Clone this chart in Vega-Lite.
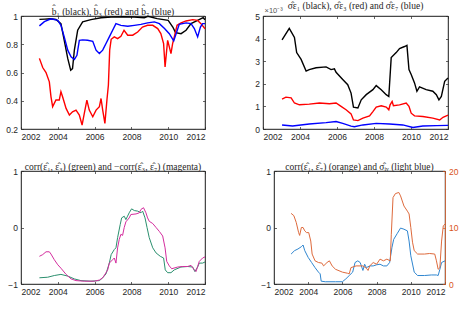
{
  "$schema": "https://vega.github.io/schema/vega-lite/v6.json",
  "padding": {"left": 0, "top": 0, "right": 0, "bottom": 0},
  "background": "white",
  "config": {
    "view": {"stroke": "#262626", "strokeWidth": 0.7},
    "axis": {"labelFont": "Liberation Sans", "labelFontSize": 8.5, "labelColor": "#262626", "tickColor": "#262626", "domainColor": "#262626", "domainWidth": 0.7, "tickWidth": 0.7, "tickSize": -2.5, "labelPadding": 6, "grid": false},
    "title": {"font": "Liberation Serif", "fontSize": 9.5, "fontWeight": "normal", "color": "#262626", "offset": -4}
  },
  "resolve": {"scale": {"color": "independent"}},
  "datasets": {
    "p1": [
      {"s":"b1","t":2003.0,"v":0.976},{"s":"b1","t":2003.3,"v":0.978},{"s":"b1","t":2003.6,"v":0.98},{"s":"b1","t":2003.9,"v":0.975},{"s":"b1","t":2004.17,"v":0.946},{"s":"b1","t":2004.35,"v":0.828},{"s":"b1","t":2004.54,"v":0.70},{"s":"b1","t":2004.7,"v":0.616},{"s":"b1","t":2004.8,"v":0.628},{"s":"b1","t":2004.9,"v":0.758},{"s":"b1","t":2005.08,"v":0.899},{"s":"b1","t":2005.35,"v":0.958},{"s":"b1","t":2005.8,"v":0.974},{"s":"b1","t":2006.35,"v":0.988},{"s":"b1","t":2006.9,"v":0.993},{"s":"b1","t":2007.5,"v":0.995},{"s":"b1","t":2008.15,"v":0.993},{"s":"b1","t":2008.7,"v":0.988},{"s":"b1","t":2008.9,"v":0.998},{"s":"b1","t":2009.4,"v":0.981},{"s":"b1","t":2010.0,"v":0.969},{"s":"b1","t":2010.25,"v":0.922},{"s":"b1","t":2010.4,"v":0.882},{"s":"b1","t":2010.7,"v":0.875},{"s":"b1","t":2010.97,"v":0.899},{"s":"b1","t":2011.24,"v":0.946},{"s":"b1","t":2011.6,"v":0.969},{"s":"b1","t":2011.9,"v":0.988},{"s":"b1","t":2012.0,"v":0.974},
      {"s":"b3","t":2003.0,"v":0.70},{"s":"b3","t":2003.18,"v":0.635},{"s":"b3","t":2003.36,"v":0.60},{"s":"b3","t":2003.54,"v":0.534},{"s":"b3","t":2003.63,"v":0.428},{"s":"b3","t":2003.72,"v":0.358},{"s":"b3","t":2003.9,"v":0.405},{"s":"b3","t":2004.08,"v":0.405},{"s":"b3","t":2004.17,"v":0.464},{"s":"b3","t":2004.26,"v":0.428},{"s":"b3","t":2004.45,"v":0.346},{"s":"b3","t":2004.63,"v":0.299},{"s":"b3","t":2004.8,"v":0.322},{"s":"b3","t":2004.99,"v":0.334},{"s":"b3","t":2005.17,"v":0.299},{"s":"b3","t":2005.32,"v":0.228},{"s":"b3","t":2005.44,"v":0.311},{"s":"b3","t":2005.58,"v":0.405},{"s":"b3","t":2005.71,"v":0.334},{"s":"b3","t":2005.9,"v":0.287},{"s":"b3","t":2006.08,"v":0.334},{"s":"b3","t":2006.26,"v":0.358},{"s":"b3","t":2006.35,"v":0.416},{"s":"b3","t":2006.44,"v":0.334},{"s":"b3","t":2006.56,"v":0.24},{"s":"b3","t":2006.67,"v":0.405},{"s":"b3","t":2006.75,"v":0.511},{"s":"b3","t":2006.82,"v":0.758},{"s":"b3","t":2006.9,"v":0.835},{"s":"b3","t":2007.07,"v":0.852},{"s":"b3","t":2007.25,"v":0.84},{"s":"b3","t":2007.43,"v":0.856},{"s":"b3","t":2007.6,"v":0.899},{"s":"b3","t":2007.8,"v":0.864},{"s":"b3","t":2008.07,"v":0.864},{"s":"b3","t":2008.34,"v":0.887},{"s":"b3","t":2008.6,"v":0.922},{"s":"b3","t":2008.88,"v":0.934},{"s":"b3","t":2009.16,"v":0.934},{"s":"b3","t":2009.43,"v":0.911},{"s":"b3","t":2009.6,"v":0.875},{"s":"b3","t":2009.75,"v":0.805},{"s":"b3","t":2009.83,"v":0.64},{"s":"b3","t":2009.9,"v":0.734},{"s":"b3","t":2009.97,"v":0.828},{"s":"b3","t":2010.06,"v":0.781},{"s":"b3","t":2010.15,"v":0.734},{"s":"b3","t":2010.24,"v":0.805},{"s":"b3","t":2010.33,"v":0.852},{"s":"b3","t":2010.48,"v":0.934},{"s":"b3","t":2010.7,"v":0.951},{"s":"b3","t":2010.97,"v":0.965},{"s":"b3","t":2011.33,"v":0.974},{"s":"b3","t":2011.6,"v":0.969},{"s":"b3","t":2011.78,"v":0.946},{"s":"b3","t":2012.0,"v":0.91},
      {"s":"b7","t":2003.0,"v":0.93},{"s":"b7","t":2003.27,"v":0.96},{"s":"b7","t":2003.63,"v":0.98},{"s":"b7","t":2004.0,"v":0.969},{"s":"b7","t":2004.17,"v":0.934},{"s":"b7","t":2004.35,"v":0.852},{"s":"b7","t":2004.54,"v":0.758},{"s":"b7","t":2004.72,"v":0.711},{"s":"b7","t":2004.9,"v":0.692},{"s":"b7","t":2005.04,"v":0.722},{"s":"b7","t":2005.17,"v":0.828},{"s":"b7","t":2005.35,"v":0.831},{"s":"b7","t":2005.62,"v":0.828},{"s":"b7","t":2005.9,"v":0.821},{"s":"b7","t":2006.08,"v":0.758},{"s":"b7","t":2006.26,"v":0.734},{"s":"b7","t":2006.44,"v":0.758},{"s":"b7","t":2006.62,"v":0.805},{"s":"b7","t":2006.8,"v":0.852},{"s":"b7","t":2006.98,"v":0.899},{"s":"b7","t":2007.16,"v":0.946},{"s":"b7","t":2007.43,"v":0.934},{"s":"b7","t":2007.8,"v":0.927},{"s":"b7","t":2008.16,"v":0.934},{"s":"b7","t":2008.52,"v":0.941},{"s":"b7","t":2008.88,"v":0.951},{"s":"b7","t":2009.25,"v":0.958},{"s":"b7","t":2009.52,"v":0.946},{"s":"b7","t":2009.8,"v":0.911},{"s":"b7","t":2010.06,"v":0.875},{"s":"b7","t":2010.3,"v":0.824},{"s":"b7","t":2010.43,"v":0.875},{"s":"b7","t":2010.6,"v":0.941},{"s":"b7","t":2010.97,"v":0.951},{"s":"b7","t":2011.24,"v":0.946},{"s":"b7","t":2011.42,"v":0.911},{"s":"b7","t":2011.6,"v":0.852},{"s":"b7","t":2011.75,"v":0.922},{"s":"b7","t":2011.87,"v":0.946},{"s":"b7","t":2012.0,"v":0.946}
    ],
    "p2": [
      {"s":"s1","t":2003.03,"v":3.94},{"s":"s1","t":2003.42,"v":4.45},{"s":"s1","t":2003.7,"v":4.05},{"s":"s1","t":2003.82,"v":3.38},{"s":"s1","t":2004.06,"v":3.08},{"s":"s1","t":2004.33,"v":2.56},{"s":"s1","t":2004.5,"v":2.63},{"s":"s1","t":2004.87,"v":2.71},{"s":"s1","t":2005.41,"v":2.75},{"s":"s1","t":2005.68,"v":2.63},{"s":"s1","t":2005.86,"v":2.66},{"s":"s1","t":2005.95,"v":2.51},{"s":"s1","t":2006.31,"v":2.19},{"s":"s1","t":2006.58,"v":1.96},{"s":"s1","t":2006.76,"v":1.59},{"s":"s1","t":2006.89,"v":0.97},{"s":"s1","t":2007.13,"v":0.93},{"s":"s1","t":2007.31,"v":1.29},{"s":"s1","t":2007.58,"v":1.52},{"s":"s1","t":2007.94,"v":1.74},{"s":"s1","t":2008.12,"v":1.92},{"s":"s1","t":2008.39,"v":1.74},{"s":"s1","t":2008.66,"v":1.52},{"s":"s1","t":2008.8,"v":1.44},{"s":"s1","t":2008.93,"v":3.16},{"s":"s1","t":2009.2,"v":3.38},{"s":"s1","t":2009.38,"v":3.56},{"s":"s1","t":2009.65,"v":3.65},{"s":"s1","t":2009.78,"v":3.7},{"s":"s1","t":2009.89,"v":2.63},{"s":"s1","t":2010.01,"v":2.41},{"s":"s1","t":2010.19,"v":2.04},{"s":"s1","t":2010.32,"v":1.67},{"s":"s1","t":2010.46,"v":1.86},{"s":"s1","t":2010.82,"v":1.74},{"s":"s1","t":2011.18,"v":1.67},{"s":"s1","t":2011.37,"v":1.52},{"s":"s1","t":2011.51,"v":1.29},{"s":"s1","t":2011.64,"v":1.44},{"s":"s1","t":2011.82,"v":2.11},{"s":"s1","t":2012.0,"v":2.26},
      {"s":"s3","t":2003.03,"v":1.32},{"s":"s3","t":2003.24,"v":1.41},{"s":"s3","t":2003.52,"v":1.38},{"s":"s3","t":2003.7,"v":1.15},{"s":"s3","t":2003.97,"v":1.07},{"s":"s3","t":2004.5,"v":1.1},{"s":"s3","t":2005.05,"v":1.15},{"s":"s3","t":2005.59,"v":1.12},{"s":"s3","t":2005.95,"v":1.15},{"s":"s3","t":2006.22,"v":1.0},{"s":"s3","t":2006.49,"v":0.85},{"s":"s3","t":2006.76,"v":0.67},{"s":"s3","t":2006.89,"v":0.4},{"s":"s3","t":2007.13,"v":0.37},{"s":"s3","t":2007.4,"v":0.48},{"s":"s3","t":2007.76,"v":0.58},{"s":"s3","t":2007.94,"v":0.77},{"s":"s3","t":2008.12,"v":0.97},{"s":"s3","t":2008.39,"v":1.03},{"s":"s3","t":2008.66,"v":0.97},{"s":"s3","t":2008.8,"v":0.85},{"s":"s3","t":2008.87,"v":1.07},{"s":"s3","t":2008.98,"v":1.22},{"s":"s3","t":2009.05,"v":1.03},{"s":"s3","t":2009.38,"v":1.07},{"s":"s3","t":2009.74,"v":1.15},{"s":"s3","t":2009.89,"v":1.0},{"s":"s3","t":2010.01,"v":0.7},{"s":"s3","t":2010.19,"v":0.58},{"s":"s3","t":2010.64,"v":0.55},{"s":"s3","t":2011.18,"v":0.48},{"s":"s3","t":2011.55,"v":0.4},{"s":"s3","t":2011.73,"v":0.52},{"s":"s3","t":2012.0,"v":0.61},
      {"s":"s7","t":2003.03,"v":0.18},{"s":"s7","t":2003.6,"v":0.13},{"s":"s7","t":2004.5,"v":0.22},{"s":"s7","t":2005.41,"v":0.28},{"s":"s7","t":2005.95,"v":0.33},{"s":"s7","t":2006.31,"v":0.25},{"s":"s7","t":2006.76,"v":0.13},{"s":"s7","t":2006.94,"v":0.1},{"s":"s7","t":2007.4,"v":0.18},{"s":"s7","t":2008.12,"v":0.25},{"s":"s7","t":2008.84,"v":0.22},{"s":"s7","t":2009.56,"v":0.18},{"s":"s7","t":2010.1,"v":0.07},{"s":"s7","t":2010.64,"v":0.13},{"s":"s7","t":2011.37,"v":0.15},{"s":"s7","t":2012.0,"v":0.16}
    ],
    "p3": [
      {"s":"green","t":2003.0,"v":-0.89},{"s":"green","t":2003.45,"v":-0.88},{"s":"green","t":2003.81,"v":-0.85},{"s":"green","t":2004.17,"v":-0.83},{"s":"green","t":2004.54,"v":-0.86},{"s":"green","t":2004.9,"v":-0.91},{"s":"green","t":2005.26,"v":-0.94},{"s":"green","t":2005.8,"v":-0.95},{"s":"green","t":2006.26,"v":-0.94},{"s":"green","t":2006.44,"v":-0.89},{"s":"green","t":2006.62,"v":-0.82},{"s":"green","t":2006.8,"v":-0.63},{"s":"green","t":2006.9,"v":-0.48},{"s":"green","t":2007.07,"v":-0.39},{"s":"green","t":2007.16,"v":-0.36},{"s":"green","t":2007.25,"v":-0.18},{"s":"green","t":2007.39,"v":0.05},{"s":"green","t":2007.47,"v":0.17},{"s":"green","t":2007.61,"v":0.20},{"s":"green","t":2007.7,"v":0.14},{"s":"green","t":2007.79,"v":0.20},{"s":"green","t":2007.88,"v":0.26},{"s":"green","t":2008.01,"v":0.33},{"s":"green","t":2008.16,"v":0.30},{"s":"green","t":2008.34,"v":0.29},{"s":"green","t":2008.52,"v":0.26},{"s":"green","t":2008.61,"v":0.29},{"s":"green","t":2008.74,"v":0.17},{"s":"green","t":2008.85,"v":0.0},{"s":"green","t":2008.97,"v":-0.18},{"s":"green","t":2009.16,"v":-0.36},{"s":"green","t":2009.34,"v":-0.45},{"s":"green","t":2009.57,"v":-0.51},{"s":"green","t":2009.75,"v":-0.54},{"s":"green","t":2009.84,"v":-0.75},{"s":"green","t":2009.97,"v":-0.80},{"s":"green","t":2010.15,"v":-0.80},{"s":"green","t":2010.33,"v":-0.75},{"s":"green","t":2010.69,"v":-0.70},{"s":"green","t":2011.06,"v":-0.69},{"s":"green","t":2011.33,"v":-0.70},{"s":"green","t":2011.45,"v":-0.78},{"s":"green","t":2011.6,"v":-0.70},{"s":"green","t":2011.69,"v":-0.63},{"s":"green","t":2011.87,"v":-0.63},{"s":"green","t":2012.0,"v":-0.61},
      {"s":"magenta","t":2003.0,"v":-0.51},{"s":"magenta","t":2003.18,"v":-0.48},{"s":"magenta","t":2003.36,"v":-0.43},{"s":"magenta","t":2003.54,"v":-0.43},{"s":"magenta","t":2003.63,"v":-0.47},{"s":"magenta","t":2003.81,"v":-0.57},{"s":"magenta","t":2004.0,"v":-0.66},{"s":"magenta","t":2004.17,"v":-0.72},{"s":"magenta","t":2004.45,"v":-0.83},{"s":"magenta","t":2004.72,"v":-0.91},{"s":"magenta","t":2004.99,"v":-0.94},{"s":"magenta","t":2005.44,"v":-0.95},{"s":"magenta","t":2005.99,"v":-0.95},{"s":"magenta","t":2006.26,"v":-0.93},{"s":"magenta","t":2006.44,"v":-0.89},{"s":"magenta","t":2006.62,"v":-0.80},{"s":"magenta","t":2006.71,"v":-0.75},{"s":"magenta","t":2006.8,"v":-0.63},{"s":"magenta","t":2006.98,"v":-0.57},{"s":"magenta","t":2007.07,"v":-0.54},{"s":"magenta","t":2007.16,"v":-0.63},{"s":"magenta","t":2007.25,"v":-0.36},{"s":"magenta","t":2007.34,"v":-0.21},{"s":"magenta","t":2007.43,"v":-0.12},{"s":"magenta","t":2007.52,"v":-0.14},{"s":"magenta","t":2007.61,"v":0.0},{"s":"magenta","t":2007.7,"v":0.10},{"s":"magenta","t":2007.88,"v":0.17},{"s":"magenta","t":2007.97,"v":0.23},{"s":"magenta","t":2008.25,"v":0.24},{"s":"magenta","t":2008.43,"v":0.26},{"s":"magenta","t":2008.52,"v":0.32},{"s":"magenta","t":2008.66,"v":0.35},{"s":"magenta","t":2008.79,"v":0.26},{"s":"magenta","t":2008.88,"v":0.17},{"s":"magenta","t":2008.97,"v":0.11},{"s":"magenta","t":2009.16,"v":0.07},{"s":"magenta","t":2009.34,"v":0.0},{"s":"magenta","t":2009.52,"v":-0.07},{"s":"magenta","t":2009.7,"v":-0.15},{"s":"magenta","t":2009.83,"v":-0.36},{"s":"magenta","t":2009.92,"v":-0.60},{"s":"magenta","t":2010.06,"v":-0.68},{"s":"magenta","t":2010.19,"v":-0.73},{"s":"magenta","t":2010.51,"v":-0.70},{"s":"magenta","t":2010.79,"v":-0.69},{"s":"magenta","t":2011.06,"v":-0.69},{"s":"magenta","t":2011.24,"v":-0.67},{"s":"magenta","t":2011.42,"v":-0.75},{"s":"magenta","t":2011.51,"v":-0.78},{"s":"magenta","t":2011.6,"v":-0.69},{"s":"magenta","t":2011.69,"v":-0.60},{"s":"magenta","t":2011.87,"v":-0.54},{"s":"magenta","t":2012.0,"v":-0.52}
    ],
    "p4a": [
      {"t":2003.0,"v":-0.47},{"t":2003.2,"v":-0.41},{"t":2003.4,"v":-0.38},{"t":2003.6,"v":-0.34},{"t":2003.7,"v":-0.31},{"t":2003.8,"v":-0.41},{"t":2004.0,"v":-0.53},{"t":2004.2,"v":-0.62},{"t":2004.4,"v":-0.71},{"t":2004.6,"v":-0.79},{"t":2004.7,"v":-0.82},{"t":2004.76,"v":-0.95},{"t":2005.0,"v":-0.96},{"t":2005.6,"v":-0.96},{"t":2006.0,"v":-0.96},{"t":2006.2,"v":-0.91},{"t":2006.4,"v":-0.85},{"t":2006.6,"v":-0.79},{"t":2006.74,"v":-0.62},{"t":2006.9,"v":-0.59},{"t":2007.04,"v":-0.62},{"t":2007.2,"v":-0.76},{"t":2007.3,"v":-0.65},{"t":2007.4,"v":-0.71},{"t":2007.6,"v":-0.68},{"t":2007.8,"v":-0.68},{"t":2008.0,"v":-0.66},{"t":2008.2,"v":-0.65},{"t":2008.4,"v":-0.68},{"t":2008.6,"v":-0.68},{"t":2008.76,"v":-0.62},{"t":2008.9,"v":-0.35},{"t":2009.0,"v":-0.21},{"t":2009.2,"v":-0.11},{"t":2009.4,"v":-0.01},{"t":2009.6,"v":-0.03},{"t":2009.8,"v":-0.06},{"t":2009.9,"v":-0.24},{"t":2010.0,"v":-0.50},{"t":2010.2,"v":-0.79},{"t":2010.4,"v":-0.85},{"t":2010.8,"v":-0.85},{"t":2011.2,"v":-0.84},{"t":2011.5,"v":-0.84},{"t":2011.6,"v":-0.85},{"t":2011.7,"v":-0.74},{"t":2011.8,"v":-0.62},{"t":2012.0,"v":-0.59}
    ],
    "p4b": [
      {"t":2003.0,"v":12.5},{"t":2003.16,"v":12.1},{"t":2003.3,"v":10.9},{"t":2003.44,"v":9.1},{"t":2003.5,"v":8.6},{"t":2003.6,"v":10.0},{"t":2003.7,"v":10.0},{"t":2003.8,"v":9.4},{"t":2003.9,"v":9.1},{"t":2004.03,"v":9.1},{"t":2004.15,"v":7.6},{"t":2004.23,"v":5.3},{"t":2004.4,"v":4.1},{"t":2004.6,"v":3.8},{"t":2004.8,"v":3.7},{"t":2004.9,"v":3.2},{"t":2005.1,"v":3.8},{"t":2005.24,"v":4.1},{"t":2005.4,"v":3.2},{"t":2005.6,"v":2.6},{"t":2006.0,"v":2.1},{"t":2006.3,"v":1.9},{"t":2006.4,"v":1.8},{"t":2006.5,"v":2.9},{"t":2006.8,"v":3.2},{"t":2007.2,"v":3.2},{"t":2007.4,"v":2.8},{"t":2007.5,"v":2.4},{"t":2007.6,"v":3.2},{"t":2007.8,"v":3.8},{"t":2008.0,"v":3.5},{"t":2008.2,"v":4.4},{"t":2008.4,"v":4.1},{"t":2008.6,"v":4.4},{"t":2008.8,"v":4.1},{"t":2008.86,"v":8.8},{"t":2008.96,"v":15.3},{"t":2009.1,"v":16.0},{"t":2009.3,"v":16.2},{"t":2009.4,"v":15.6},{"t":2009.6,"v":13.8},{"t":2009.8,"v":12.9},{"t":2009.9,"v":12.4},{"t":2010.0,"v":10.0},{"t":2010.1,"v":7.4},{"t":2010.2,"v":5.9},{"t":2010.4,"v":5.3},{"t":2010.8,"v":5.3},{"t":2011.1,"v":5.4},{"t":2011.4,"v":5.3},{"t":2011.5,"v":4.1},{"t":2011.6,"v":2.6},{"t":2011.7,"v":2.9},{"t":2011.8,"v":7.6},{"t":2011.9,"v":10.3},{"t":2012.0,"v":10.6}
    ]
  },
  "vconcat": [
    {
      "hconcat": [
        {
          "width": 184, "height": 113,
          "title": "b̂₁ (black), b̂₃ (red) and b̂₇ (blue)",
          "data": {"name": "p1"},
          "resolve": {"axis": {"x": "independent", "y": "independent"}},
          "layer": [
            {
              "mark": {"type": "line", "strokeWidth": 1.4},
              "encoding": {
                "x": {"field": "t", "type": "quantitative", "scale": {"domain": [2002, 2012], "nice": false, "zero": false}, "axis": {"values": [2002, 2004, 2006, 2008, 2010, 2012], "format": "d", "title": null}},
                "y": {"field": "v", "type": "quantitative", "scale": {"domain": [0.2, 1], "nice": false, "zero": false}, "axis": {"values": [0.2, 0.4, 0.6, 0.8, 1], "format": "~g", "title": null, "minExtent": 20}},
                "color": {"field": "s", "type": "nominal", "scale": {"domain": ["b1", "b3", "b7"], "range": ["#000000", "#ff0000", "#0000ff"]}, "legend": null}
              }
            },
            {
              "mark": {"type": "line", "opacity": 0},
              "encoding": {
                "x": {"field": "t", "type": "quantitative", "axis": {"orient": "top", "values": [2002, 2004, 2006, 2008, 2010, 2012], "labels": false, "title": null}},
                "y": {"field": "v", "type": "quantitative", "axis": {"orient": "right", "values": [0.2, 0.4, 0.6, 0.8, 1], "labels": false, "title": null}},
                "detail": {"field": "s"}
              }
            }
          ]
        },
        {
          "width": 185, "height": 113,
          "title": "σ̂ε₁ (black), σ̂ε₃ (red) and σ̂ε₇ (blue)",
          "data": {"name": "p2"},
          "resolve": {"axis": {"x": "independent", "y": "independent"}},
          "layer": [
            {
              "mark": {"type": "line", "strokeWidth": 1.4},
              "encoding": {
                "x": {"field": "t", "type": "quantitative", "scale": {"domain": [2002, 2012], "nice": false, "zero": false}, "axis": {"values": [2002, 2004, 2006, 2008, 2010, 2012], "format": "d", "title": null}},
                "y": {"field": "v", "type": "quantitative", "scale": {"domain": [0, 5], "nice": false}, "axis": {"values": [0, 1, 2, 3, 4, 5], "format": "~g", "title": "×10⁻³", "titleAngle": 0, "titleAlign": "left", "titleBaseline": "bottom", "titleX": 1, "titleY": -2, "titleFont": "Liberation Sans", "titleFontSize": 7.5, "titleFontWeight": "normal", "titleColor": "#555555"}},
                "color": {"field": "s", "type": "nominal", "scale": {"domain": ["s1", "s3", "s7"], "range": ["#000000", "#ff0000", "#0000ff"]}, "legend": null}
              }
            },
            {
              "mark": {"type": "line", "opacity": 0},
              "encoding": {
                "x": {"field": "t", "type": "quantitative", "axis": {"orient": "top", "values": [2002, 2004, 2006, 2008, 2010, 2012], "labels": false, "title": null}},
                "y": {"field": "v", "type": "quantitative", "axis": {"orient": "right", "values": [0, 1, 2, 3, 4, 5], "labels": false, "title": null}},
                "detail": {"field": "s"}
              }
            }
          ]
        }
      ],
      "spacing": 58,
      "bounds": "flush",
      "resolve": {"scale": {"color": "independent"}}
    },
    {
      "hconcat": [
        {
          "width": 184, "height": 113,
          "title": "corr(ε̂₁, ε̂₃) (green) and −corr(ε̂₃, ε̂₇) (magenta)",
          "data": {"name": "p3"},
          "resolve": {"axis": {"x": "independent", "y": "independent"}},
          "layer": [
            {
              "mark": {"type": "line", "strokeWidth": 1},
              "encoding": {
                "x": {"field": "t", "type": "quantitative", "scale": {"domain": [2002, 2012], "nice": false, "zero": false}, "axis": {"values": [2002, 2004, 2006, 2008, 2010, 2012], "format": "d", "title": null}},
                "y": {"field": "v", "type": "quantitative", "scale": {"domain": [-1, 1], "nice": false}, "axis": {"values": [-1, 0, 1], "format": "~g", "title": null, "minExtent": 20}},
                "color": {"field": "s", "type": "nominal", "scale": {"domain": ["green", "magenta"], "range": ["#2b8f6e", "#d42d9e"]}, "legend": null}
              }
            },
            {
              "mark": {"type": "line", "opacity": 0},
              "encoding": {
                "x": {"field": "t", "type": "quantitative", "axis": {"orient": "top", "values": [2002, 2004, 2006, 2008, 2010, 2012], "labels": false, "title": null}},
                "y": {"field": "v", "type": "quantitative", "axis": {"orient": "right", "values": [-1, 0, 1], "labels": false, "title": null}},
                "detail": {"field": "s"}
              }
            }
          ]
        },
        {
          "width": 171, "height": 113,
          "title": "corr(ε̂₁, ε̂₇) (orange) and σ̂ᵢᵥ (light blue)",
          "resolve": {"scale": {"y": "independent"}, "axis": {"x": "independent"}},
          "layer": [
            {
              "data": {"name": "p4a"},
              "mark": {"type": "line", "strokeWidth": 1, "color": "#2f86d0"},
              "encoding": {
                "x": {"field": "t", "type": "quantitative", "scale": {"domain": [2002, 2012], "nice": false, "zero": false}, "axis": {"values": [2002, 2004, 2006, 2008, 2010, 2012], "format": "d", "title": null}},
                "y": {"field": "v", "type": "quantitative", "scale": {"domain": [-1, 1], "nice": false}, "axis": {"values": [-1, 0, 1], "format": "~g", "title": null}}
              }
            },
            {
              "data": {"name": "p4b"},
              "mark": {"type": "line", "strokeWidth": 1, "color": "#de6a3c"},
              "encoding": {
                "x": {"field": "t", "type": "quantitative", "axis": {"orient": "top", "values": [2002, 2004, 2006, 2008, 2010, 2012], "labels": false, "title": null}},
                "y": {"field": "v", "type": "quantitative", "scale": {"domain": [0, 20], "nice": false}, "axis": {"orient": "right", "values": [0, 10, 20], "format": "~g", "title": null, "labelColor": "#d95319", "tickColor": "#d95319", "domainColor": "#d95319"}}
              }
            }
          ]
        }
      ],
      "spacing": 69,
      "bounds": "flush",
      "resolve": {"scale": {"color": "independent"}}
    }
  ],
  "spacing": 19
}
